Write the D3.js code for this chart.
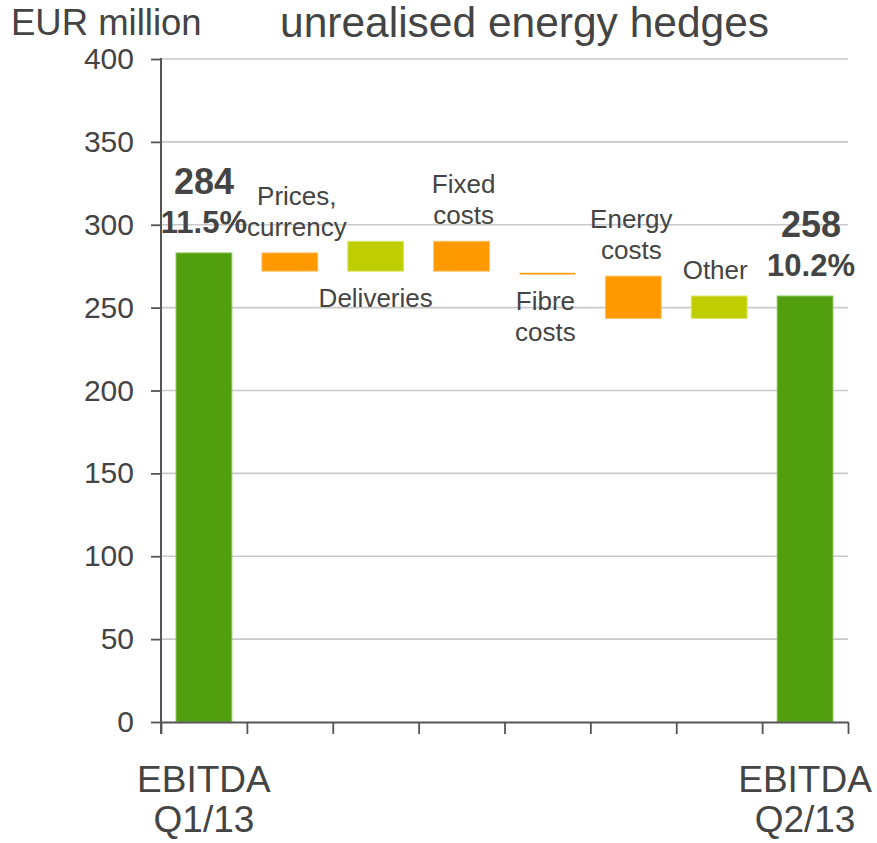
<!DOCTYPE html>
<html>
<head>
<meta charset="utf-8">
<script src="https://cdn.jsdelivr.net/npm/d3@7"></script>
<style>
  html, body { margin: 0; padding: 0; background: #fff; }
  svg { display: block; font-family: "Liberation Sans", Arial, sans-serif; }
</style>
</head>
<body>
<svg id="chart" width="877" height="843"></svg>
<script>
// ---- data ----
const categories = ["EBITDA Q1/13", "Prices, currency", "Deliveries", "Fixed costs", "Fibre costs", "Energy costs", "Other", "EBITDA Q2/13"];
const labelLines = [["EBITDA", "Q1/13"], ["Prices,", "currency"], ["Deliveries"], ["Fixed", "costs"], ["Fibre", "costs"], ["Energy", "costs"], ["Other"], ["EBITDA", "Q2/13"]];
const barStart = [0, 283, 272, 290, 271, 269, 243.5, 0];
const barEnd   = [283, 272, 290, 272, 270, 243.5, 257, 257];
const barType  = ["total", "decrease", "increase", "decrease", "decrease", "decrease", "increase", "total"];
const totalValueLabels = ["284", "", "", "", "", "", "", "258"];
const totalMarginLabels = ["11.5%", "", "", "", "", "", "", "10.2%"];
const yTicks = [0, 50, 100, 150, 200, 250, 300, 350, 400];
const unitLabel = "EUR million";
const title = "unrealised energy hedges";

// ---- layout ----
const labelSide = ["axis", "above", "below", "above", "below", "above", "above", "axis"];
const labelDx = [0, 7, 0, 2, -2, -2, -4, 0];
const totalDx = [0, 0, 0, 0, 0, 0, 0, 6];
const colors = { total: "#519F0E", decrease: "#FF9900", increase: "#BFCE00" };
const borders = { total: "#8cc65a", decrease: "#ffc266", increase: "#dbe566" };
const textColor = "#444444";

const svg = d3.select("#chart");
const plotL = 161, plotR = 848, plotT = 59, plotB = 722;

const x = d3.scaleBand().domain(categories).range([plotL, plotR]).paddingInner(0.35).paddingOuter(0.175);
const y = d3.scaleLinear().domain([0, 400]).range([plotB, plotT]);
const idx = d3.scaleLinear().domain([0, categories.length]).range([plotL, plotR]);

// gridlines
svg.append("g").selectAll("line").data(yTicks.filter(d => d > 0)).join("line")
  .attr("x1", plotL).attr("x2", plotR)
  .attr("y1", d => y(d)).attr("y2", d => y(d))
  .attr("stroke", "#c9c9c9").attr("stroke-width", 1.6);

// bars
const data = categories.map((c, i) => ({c, i, s: barStart[i], e: barEnd[i], t: barType[i]}));
svg.append("g").selectAll("rect").data(data).join("rect")
  .attr("x", d => x(d.c))
  .attr("width", x.bandwidth())
  .attr("y", d => y(Math.max(d.s, d.e)))
  .attr("height", d => Math.abs(y(d.s) - y(d.e)))
  .attr("fill", d => colors[d.t])
  .attr("stroke", d => Math.abs(y(d.s) - y(d.e)) > 4 ? borders[d.t] : "none")
  .attr("stroke-width", 1);

// y axis
const yAxis = d3.axisLeft(y).tickValues(yTicks).tickSize(10).tickPadding(17).tickSizeOuter(0);
const gy = svg.append("g").attr("transform", `translate(${plotL},0)`).call(yAxis);
gy.select(".domain").remove();
gy.selectAll(".tick line").attr("stroke", "#555").attr("stroke-width", 1.8);
gy.selectAll(".tick text").attr("font-size", 30).attr("fill", textColor)
  .attr("font-family", "Liberation Sans, Arial, sans-serif");
svg.append("line").attr("x1", plotL).attr("x2", plotL).attr("y1", plotT - 1).attr("y2", plotB + 12)
  .attr("stroke", "#555").attr("stroke-width", 2);

// x axis
const xAxis = d3.axisBottom(idx).tickValues(d3.range(categories.length + 1)).tickSize(12).tickFormat("").tickSizeOuter(0);
const gx = svg.append("g").attr("transform", `translate(0,${plotB})`).call(xAxis);
gx.select(".domain").attr("stroke", "#555").attr("stroke-width", 2);
gx.selectAll(".tick line").attr("stroke", "#555").attr("stroke-width", 1.8);

const cx = d => x(d.c) + x.bandwidth() / 2;

// category labels
data.forEach(d => {
  const lines = labelLines[d.i];
  const side = labelSide[d.i];
  const px = cx(d) + labelDx[d.i];
  const g = svg.append("text").attr("text-anchor", "middle").attr("fill", textColor);
  if (side === "axis") {
    g.attr("font-size", 37);
    lines.forEach((l, k) => g.append("tspan").attr("x", px).attr("y", 792 + k * 40).text(l));
  } else if (side === "above") {
    g.attr("font-size", 26);
    const topY = y(Math.max(d.s, d.e));
    const n = lines.length;
    lines.forEach((l, k) => g.append("tspan").attr("x", px).attr("y", topY - 17 - (n - 1 - k) * 31).text(l));
  } else {
    g.attr("font-size", 26);
    const botY = y(Math.min(d.s, d.e));
    lines.forEach((l, k) => g.append("tspan").attr("x", px).attr("y", botY + 36 + k * 31).text(l));
  }
});

// totals value labels
data.filter(d => totalValueLabels[d.i]).forEach(d => {
  const topY = y(d.e);
  const px = cx(d) + totalDx[d.i];
  svg.append("text").attr("x", px).attr("y", topY - 59).attr("text-anchor", "middle")
    .attr("font-size", 36).attr("font-weight", "bold").attr("fill", textColor).text(totalValueLabels[d.i]);
  svg.append("text").attr("x", px).attr("y", topY - 20).attr("text-anchor", "middle")
    .attr("font-size", 31).attr("font-weight", "bold").attr("fill", textColor).text(totalMarginLabels[d.i]);
});

// headings
svg.append("text").attr("x", 11).attr("y", 35).attr("font-size", 36.5).attr("fill", textColor).text(unitLabel);
svg.append("text").attr("x", 280).attr("y", 37).attr("font-size", 42.5).attr("fill", textColor).text(title);
</script>
</body>
</html>
